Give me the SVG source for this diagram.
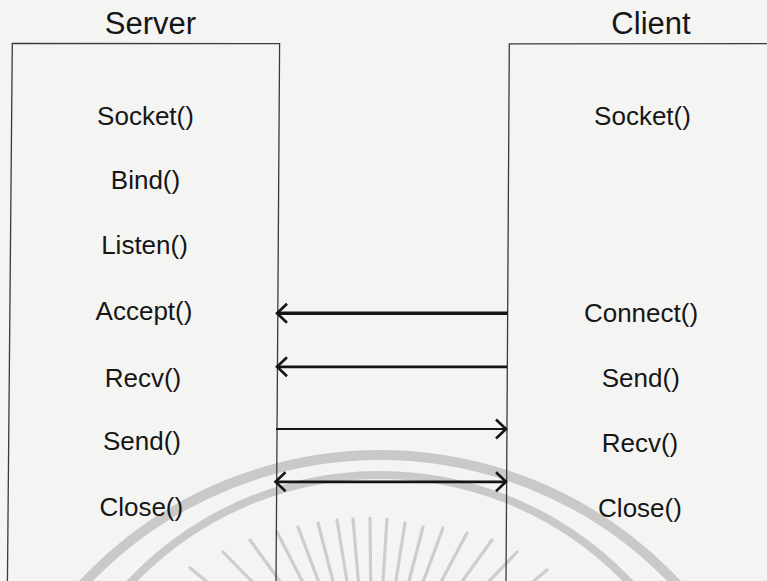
<svg xmlns="http://www.w3.org/2000/svg" width="767" height="581" viewBox="0 0 767 581">
  <style>
    .title { font-family: "Liberation Sans", Arial, sans-serif; font-size: 31px; fill: #161616; text-anchor: middle; }
    .call { font-family: "Liberation Sans", Arial, sans-serif; font-size: 26px; fill: #161616; text-anchor: middle; }
    .frame { fill: none; stroke: #3a3a3a; stroke-width: 1.3; }
    .msg { fill: none; stroke: #151515; stroke-linecap: butt; }
    .seal { fill: none; stroke: #c9c9c9; }
    .ray { stroke: #cdcdcd; stroke-width: 3.2; stroke-linecap: round; }
  </style>
  <defs>
    <marker id="head" markerUnits="userSpaceOnUse" markerWidth="24" markerHeight="24" refX="0" refY="0" orient="auto-start-reverse" overflow="visible">
      <path d="M-10,-9.5 L0,0 L-10,9.5" fill="none" stroke="#151515" stroke-width="2.6" stroke-linejoin="miter"/>
    </marker>
  </defs>

  <rect width="767" height="581" fill="#f4f4f2"/>

  <!-- faint seal in the background -->
  <g id="seal">
    <circle class="seal" cx="380" cy="861" r="406" stroke-width="10"/>
    <circle class="seal" cx="380" cy="818" r="343" stroke-width="8"/>
    <g>
      <line class="ray" x1="190" y1="568" x2="264" y2="628"/>
      <line class="ray" x1="223" y1="552" x2="290" y2="620"/>
      <line class="ray" x1="250" y1="540" x2="302" y2="612"/>
      <line class="ray" x1="277" y1="532" x2="318" y2="612"/>
      <line class="ray" x1="298" y1="527" x2="330" y2="612"/>
      <line class="ray" x1="318" y1="523" x2="341" y2="612"/>
      <line class="ray" x1="337" y1="520" x2="352" y2="612"/>
      <line class="ray" x1="353" y1="519" x2="361" y2="612"/>
      <line class="ray" x1="370" y1="518" x2="371" y2="612"/>
      <line class="ray" x1="387" y1="519" x2="381" y2="612"/>
      <line class="ray" x1="405" y1="523" x2="391" y2="612"/>
      <line class="ray" x1="423" y1="527" x2="401" y2="612"/>
      <line class="ray" x1="443" y1="528" x2="412" y2="612"/>
      <line class="ray" x1="467" y1="533" x2="425" y2="612"/>
      <line class="ray" x1="492" y1="540" x2="440" y2="612"/>
      <line class="ray" x1="517" y1="552" x2="452" y2="620"/>
      <line class="ray" x1="547" y1="570" x2="478" y2="628"/>
    </g>
  </g>

  <!-- server lane -->
  <g id="server">
    <path class="frame" d="M7.4,585 L12.3,43.3 L279.6,43.6 L276,585"/>
    <text class="title" x="150.5" y="33.5">Server</text>
    <text class="call" x="145.5" y="125">Socket()</text>
    <text class="call" x="145.5" y="189">Bind()</text>
    <text class="call" x="144.5" y="254">Listen()</text>
    <text class="call" x="144" y="320">Accept()</text>
    <text class="call" x="143" y="386.5">Recv()</text>
    <text class="call" x="142" y="450">Send()</text>
    <text class="call" x="141.3" y="516">Close()</text>
  </g>

  <!-- client lane -->
  <g id="client">
    <path class="frame" d="M767,43.6 L509.3,43.8 L506,585"/>
    <text class="title" x="651" y="34">Client</text>
    <text class="call" x="642.5" y="125">Socket()</text>
    <text class="call" x="641" y="322">Connect()</text>
    <text class="call" x="640.8" y="387">Send()</text>
    <text class="call" x="640" y="452">Recv()</text>
    <text class="call" x="640" y="517">Close()</text>
  </g>

  <!-- messages between the lanes -->
  <g id="connectors">
    <line class="msg" x1="507.5" y1="313.3" x2="277" y2="313.3" stroke-width="3.4" marker-end="url(#head)"/>
    <line class="msg" x1="507" y1="366.8" x2="277" y2="366.8" stroke-width="2.7" marker-end="url(#head)"/>
    <line class="msg" x1="276" y1="429" x2="506" y2="429" stroke-width="2" marker-end="url(#head)"/>
    <line class="msg" x1="275.5" y1="481.8" x2="506" y2="481.8" stroke-width="2.7" marker-start="url(#head)" marker-end="url(#head)"/>
  </g>
</svg>
